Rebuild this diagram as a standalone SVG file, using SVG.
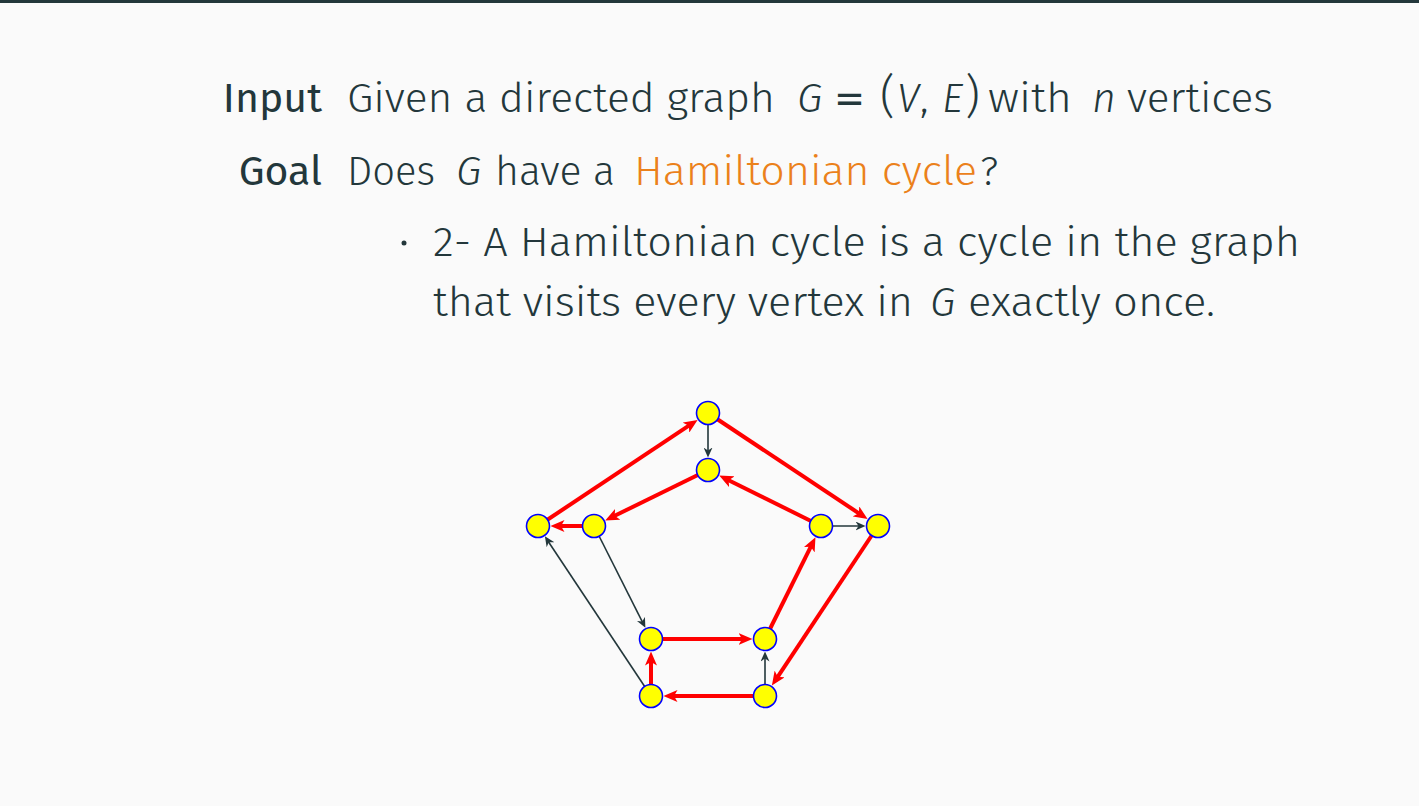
<svg xmlns="http://www.w3.org/2000/svg" width="1419" height="806" viewBox="0 0 1419 806">
<style>
.t{font-family:"Fira Sans","Open Sans","Noto Sans",sans-serif;font-weight:300;font-size:41px;fill:#23373b}
.lab{font-weight:400}
.it{font-style:italic}
.or{fill:#eb811b}
.eq{font-family:"DejaVu Sans",sans-serif;font-weight:400;font-size:40px}
.par{font-size:46px}
.red{stroke:#ff0000;stroke-width:4;fill:none;marker-end:url(#ar)}
.dk{stroke:#23373b;stroke-width:1.6;fill:none;marker-end:url(#ad)}
.nd{fill:#ffff00;stroke:#0000ff;stroke-width:1.6}
</style>
<defs>
<marker id="ar" markerUnits="userSpaceOnUse" viewBox="0 0 14 12" markerWidth="14" markerHeight="12" refX="8" refY="6" orient="auto"><path d="M0,0 L14,6 L0,12 L3.5,6 z" fill="#ff0000"/></marker>
<marker id="ad" markerUnits="userSpaceOnUse" viewBox="0 0 10 9" markerWidth="10" markerHeight="9" refX="6" refY="4.5" orient="auto"><path d="M0,0 L10,4.5 L0,9 L3,4.5 z" fill="#23373b"/></marker>
</defs>
<rect width="1419" height="806" fill="#fafafa"/>
<rect width="1419" height="3" fill="#23373b"/>
<g id="text">
<text class="t lab" x="322" y="112" text-anchor="end">Input</text>
<text class="t" y="112"><tspan x="347" textLength="428" lengthAdjust="spacingAndGlyphs">Given a directed graph</tspan><tspan class="it" x="797">G</tspan><tspan class="eq" x="834" textLength="31" lengthAdjust="spacingAndGlyphs">=</tspan><tspan class="par" x="880">(</tspan><tspan class="it" x="897">V</tspan><tspan x="920">,</tspan><tspan class="it" x="942">E</tspan><tspan class="par" x="965">)</tspan><tspan x="988" textLength="84" lengthAdjust="spacingAndGlyphs">with</tspan><tspan class="it" x="1092">n</tspan><tspan x="1127" textLength="146" lengthAdjust="spacingAndGlyphs">vertices</tspan></text>
<text class="t lab" x="322" y="185" text-anchor="end">Goal</text>
<text class="t" y="185"><tspan x="347" textLength="88" lengthAdjust="spacingAndGlyphs">Does</tspan><tspan class="it" x="456">G</tspan><tspan x="495" textLength="120" lengthAdjust="spacingAndGlyphs">have a</tspan><tspan class="or" x="634" textLength="343" lengthAdjust="spacingAndGlyphs">Hamiltonian cycle</tspan><tspan x="980">?</tspan></text>
<circle cx="404" cy="243" r="2.5" fill="#23373b"/>
<text class="t" x="433" y="256" textLength="867" lengthAdjust="spacingAndGlyphs">2- A Hamiltonian cycle is a cycle in the graph</text>
<text class="t" y="316"><tspan x="433" textLength="480" lengthAdjust="spacingAndGlyphs">that visits every vertex in</tspan><tspan class="it" x="930">G</tspan><tspan x="968" textLength="247" lengthAdjust="spacingAndGlyphs">exactly once.</tspan></text>
</g>
<g id="connectors">
<line class="red" x1="538" y1="526" x2="692.6" y2="423.2"/>
<line class="red" x1="708" y1="413" x2="862.6" y2="515.8"/>
<line class="red" x1="878" y1="526" x2="775.2" y2="680.6"/>
<line class="red" x1="765" y1="696" x2="669.5" y2="696"/>
<line class="red" x1="651" y1="696" x2="651" y2="657.5"/>
<line class="red" x1="651" y1="639" x2="746.5" y2="639"/>
<line class="red" x1="765" y1="639" x2="812.8" y2="542.6"/>
<line class="red" x1="821" y1="526" x2="724.6" y2="478.2"/>
<line class="red" x1="708" y1="470" x2="610.6" y2="517.8"/>
<line class="red" x1="594" y1="526" x2="556.5" y2="526"/>
<line class="dk" x1="708" y1="413" x2="708" y2="453.5"/>
<line class="dk" x1="821" y1="526" x2="861.5" y2="526"/>
<line class="dk" x1="594" y1="526" x2="643.6" y2="624.3"/>
<line class="dk" x1="765" y1="696" x2="765" y2="655.5"/>
<line class="dk" x1="651" y1="696" x2="547.1" y2="539.7"/>
</g>
<g id="n-top"><circle class="nd" cx="708" cy="413" r="11.5"/></g>
<g id="n-itop"><circle class="nd" cx="708" cy="470" r="11.5"/></g>
<g id="n-oleft"><circle class="nd" cx="538" cy="526" r="11.5"/></g>
<g id="n-ileft"><circle class="nd" cx="594" cy="526" r="11.5"/></g>
<g id="n-iright"><circle class="nd" cx="821" cy="526" r="11.5"/></g>
<g id="n-oright"><circle class="nd" cx="878" cy="526" r="11.5"/></g>
<g id="n-ibl"><circle class="nd" cx="651" cy="639" r="11.5"/></g>
<g id="n-ibr"><circle class="nd" cx="765" cy="639" r="11.5"/></g>
<g id="n-obl"><circle class="nd" cx="651" cy="696" r="11.5"/></g>
<g id="n-obr"><circle class="nd" cx="765" cy="696" r="11.5"/></g>
</svg>
